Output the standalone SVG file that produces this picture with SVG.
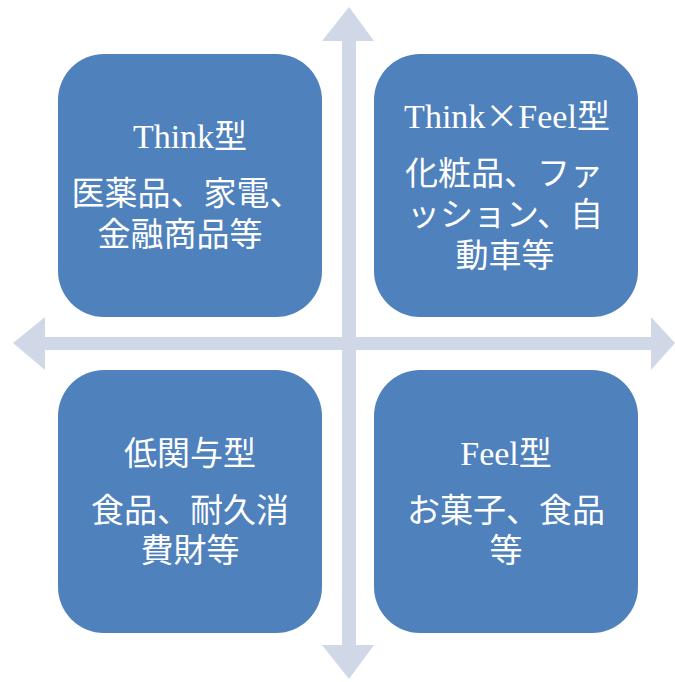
<svg xmlns="http://www.w3.org/2000/svg" width="675" height="682" viewBox="0 0 675 682">
<style>
.box{fill:#4F81BD;}
.arrow{fill:#D0D8E8;}
text{fill:#FFFFFF;font-family:"Liberation Serif","Noto Sans CJK JP",serif;font-size:33px;text-anchor:middle;}
.cjk{font-family:"Noto Sans CJK JP",sans-serif;}
.lat{font-size:34px;}
</style>
<rect width="675" height="682" fill="#FFFFFF"/>
<g id="connectors">
<polygon class="arrow" points="349,7 374,41 356,41 356,645 374,645 349,679 322,645 342,645 342,41 322,41"/>
<polygon class="arrow" points="13,343 45,317 45,337 651,337 651,317 675,343 651,370 651,350 45,350 45,370"/>
</g>
<g id="node-think">
<rect class="box" x="58" y="54" width="264" height="263" rx="46" ry="46"/>
<text x="190" y="148"><tspan class="lat">Think</tspan>型</text>
<text x="187" y="205">医薬品、家電、</text>
<text x="180" y="246">金融商品等</text>
</g>
<g id="node-thinkfeel">
<rect class="box" x="374" y="54" width="264" height="263" rx="46" ry="46"/>
<text x="507" y="128"><tspan class="lat">Think</tspan><tspan class="cjk">×</tspan><tspan class="lat">Feel</tspan>型</text>
<text x="504" y="185">化粧品、ファ</text>
<text x="505" y="226">ッション、自</text>
<text x="505" y="267">動車等</text>
</g>
<g id="node-low">
<rect class="box" x="58" y="370" width="264" height="263" rx="46" ry="46"/>
<text x="190" y="465">低関与型</text>
<text x="190" y="522">食品、耐久消</text>
<text x="190" y="562">費財等</text>
</g>
<g id="node-feel">
<rect class="box" x="374" y="370" width="264" height="263" rx="46" ry="46"/>
<text x="506" y="465"><tspan class="lat">Feel</tspan>型</text>
<text x="506" y="522">お菓子、食品</text>
<text x="506" y="562">等</text>
</g>
</svg>
